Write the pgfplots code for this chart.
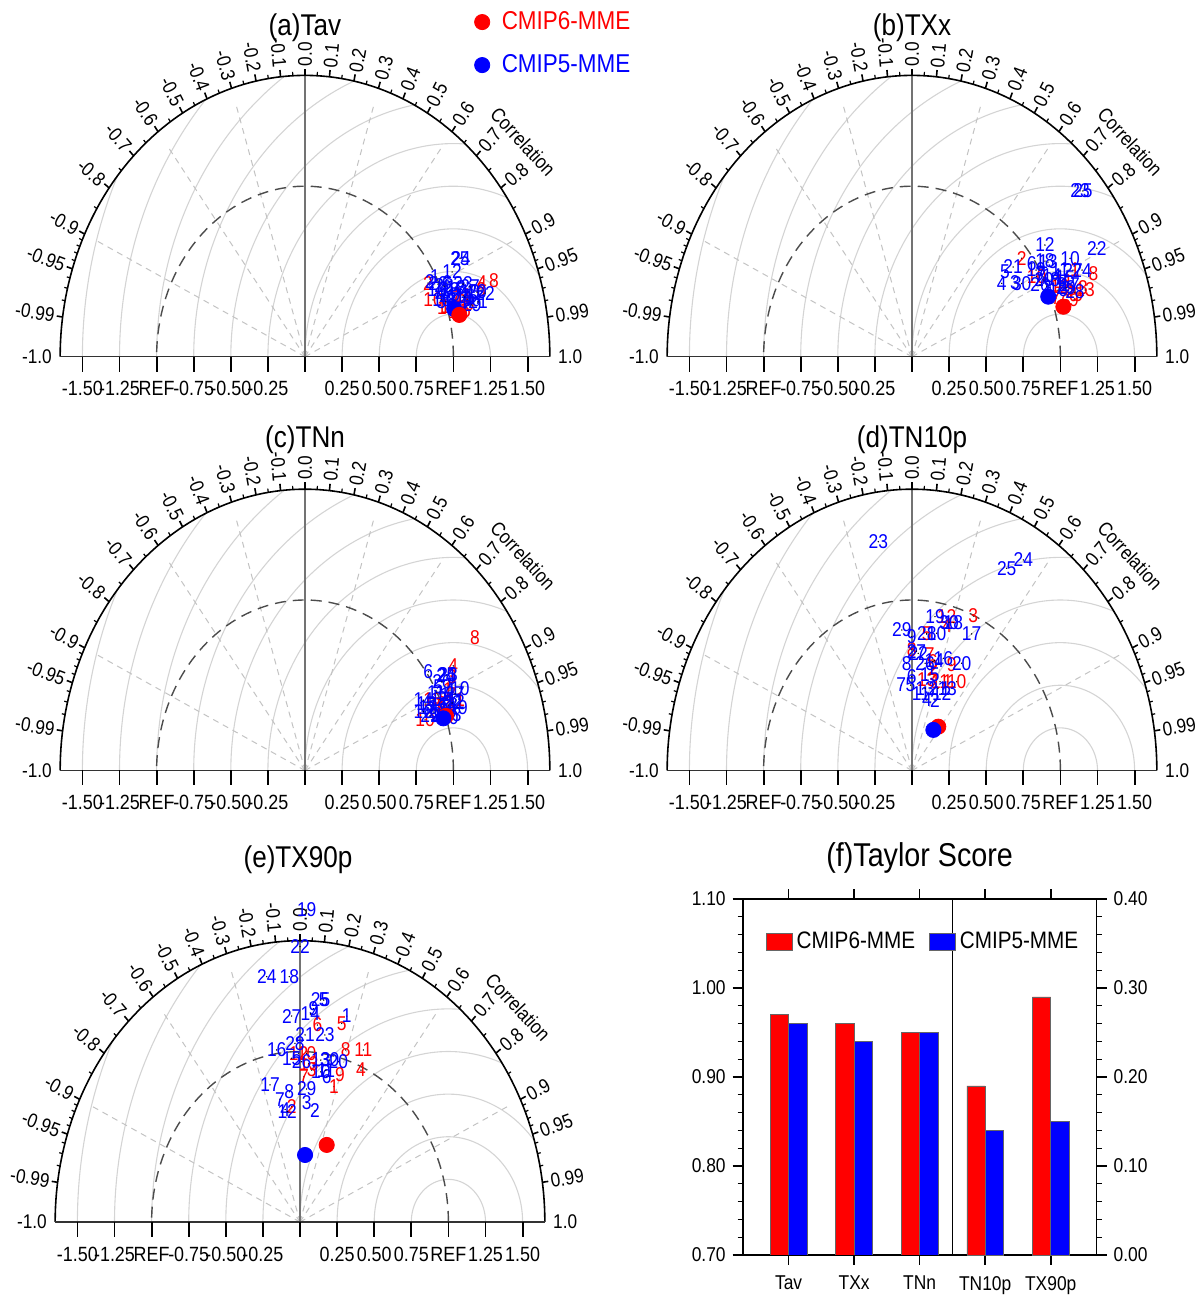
\documentclass[border=0pt]{standalone}
\usepackage{pgfplots}
\pgfplotsset{compat=1.18}
\usepackage{fontspec}
\setmainfont{Liberation Sans}[FakeStretch=0.87]
\setsansfont{Liberation Sans}[FakeStretch=0.87]
\definecolor{gridgray}{RGB}{212,212,212}
\definecolor{raygray}{RGB}{195,195,195}
\newcommand\tickfont{\fontsize{9.9}{11}\selectfont}
\newcommand\numfont{\fontsize{10}{10}\selectfont}
\newcommand\titlefont{\fontsize{15}{17}\selectfont}

\pgfplotsset{
  taylor/.style={anchor=origin, x=74.2pt, y=85.25pt, xmin=-1.9, xmax=1.9, ymin=0, ymax=2, hide axis, clip=false},
  numlab/.style={only marks, mark=*, mark size=0.1pt, mark options={draw=none,fill=none},
     nodes near coords, point meta=explicit symbolic, nodes near coords align={anchor=center},
     every node near coord/.append style={font=\numfont, text=#1, anchor=center, inner sep=0pt}, forget plot},
  mme/.style={only marks, mark=*, mark size=3.8pt, color=#1, mark options={draw=#1, fill=#1}, forget plot},
}

\newcommand\taylorframe[2]{%
\begin{scope}[shift={(#1,#2)}, x=74.2pt, y=85.25pt]
\foreach \r/\a in {0.25/0,0.5/0,0.75/39.35,1.0/68.82,1.25/86.33,1.5/100.13,1.75/112.51,2.0/124.71,2.25/137.92,2.5/154.89}{%
  \draw[gridgray, line width=0.55pt, domain=\a:180, samples=60, variable=\t] plot ({1+\r*cos(\t)},{\r*sin(\t)});
}
\foreach \c in {-0.9,-0.6,-0.3,0.3,0.6,0.9}{%
  \draw[raygray, line width=0.5pt, dash pattern=on 3pt off 2.5pt] (0,0) -- ({1.55*\c},{1.55*sqrt(1-(\c)*(\c))});
}
\draw[black!70, line width=0.7pt, dash pattern=on 5.5pt off 3.5pt, domain=0:180, samples=90, variable=\t] plot ({cos(\t)},{sin(\t)});
\draw[black!55, line width=0.7pt] (0,0) -- (0,1.65);
\draw[black, line width=0.8pt, domain=0:180, samples=120, variable=\t] plot ({1.65*cos(\t)},{1.65*sin(\t)});
\draw[black!80, line width=0.6pt] (-1.65,0) -- (1.65,0);
\foreach \x in {-1.5,-1.25,-1,-0.75,-0.5,-0.25,0,0.25,0.5,0.75,1,1.25,1.5}{%
  \draw[black, line width=0.9pt] (\x,0) -- ++(0,-7.5pt);
}
\foreach \x/\l in {-1.5/-1.50,-1.25/-1.25,-1/REF,-0.75/-0.75,-0.5/-0.50,-0.25/-0.25,0.25/0.25,0.5/0.50,0.75/0.75,1/REF,1.25/1.25,1.5/1.50}{%
  \node[font=\fontsize{10.3}{11}\selectfont, inner sep=0pt] at ([yshift=-16pt]\x,0) {\l};
}
\foreach \c in {-0.99,-0.95,-0.9,-0.8,-0.7,-0.6,-0.5,-0.4,-0.3,-0.2,-0.1,0,0.1,0.2,0.3,0.4,0.5,0.6,0.7,0.8,0.9,0.95,0.99}{%
  \draw[black, line width=0.8pt] ({1.65*\c},{1.65*sqrt(1-(\c)*(\c))}) -- ({1.69*\c},{1.69*sqrt(1-(\c)*(\c))});
}
\foreach \c in {-0.98,-0.97,-0.96,-0.94,-0.93,-0.92,-0.91,-0.85,-0.75,-0.65,-0.55,-0.45,-0.35,-0.25,-0.15,-0.05,0.05,0.15,0.25,0.35,0.45,0.55,0.65,0.75,0.85,0.91,0.92,0.93,0.94,0.96,0.97,0.98}{%
  \draw[black, line width=0.6pt] ({1.65*\c},{1.65*sqrt(1-(\c)*(\c))}) -- ({1.672*\c},{1.672*sqrt(1-(\c)*(\c))});
}
\foreach \c/\l in {-1/-1.0,-0.99/-0.99,-0.95/-0.95,-0.9/-0.9,-0.8/-0.8,-0.7/-0.7,-0.6/-0.6,-0.5/-0.5,-0.4/-0.4,-0.3/-0.3,-0.2/-0.2,-0.1/-0.1}{%
  \pgfmathsetmacro\ang{atan2(85.25*sqrt(1-(\c)*(\c)),74.2*(\c))-180}
  \node[font=\tickfont, rotate=\ang, anchor=east, inner sep=1pt] at ({1.69*\c},{1.69*sqrt(1-(\c)*(\c))}) {\l};
}
\foreach \c/\l in {0/0.0,0.1/0.1,0.2/0.2,0.3/0.3,0.4/0.4,0.5/0.5,0.6/0.6,0.7/0.7,0.8/0.8,0.9/0.9,0.95/0.95,0.99/0.99,1/1.0}{%
  \pgfmathsetmacro\ang{atan2(85.25*sqrt(1-(\c)*(\c)),74.2*(\c))}
  \node[font=\tickfont, rotate=\ang, anchor=west, inner sep=1pt] at ({1.69*\c},{1.69*sqrt(1-(\c)*(\c))}) {\l};
}
\node[font=\tickfont, rotate=-47] at (1.47,1.26) {Correlation};
\end{scope}}

\begin{document}
\begin{tikzpicture}
\useasboundingbox (0,0) rectangle (597.5pt,648.5pt);

\taylorframe{152.5pt}{470.15pt}
\taylorframe{456pt}{470.15pt}
\taylorframe{152.5pt}{263.25pt}
\taylorframe{456pt}{263.25pt}
\taylorframe{150pt}{37.5pt}

\node[font=\titlefont] at (152.5pt,634.5pt) {(a)Tav};
\node[font=\titlefont] at (456pt,634.5pt) {(b)TXx};
\node[font=\titlefont] at (152.5pt,428.5pt) {(c)TNn};
\node[font=\titlefont] at (456pt,428.5pt) {(d)TN10p};
\node[font=\titlefont] at (149pt,218.5pt) {(e)TX90p};
\node[font=\fontsize{16.5}{19}\selectfont] at (459.8pt,219.5pt) {(f)Taylor Score};

% ---------------- (a) Tav
\begin{axis}[taylor, at={(152.5pt,470.15pt)},
  legend style={draw=none, fill=none, at={(axis cs:1.14,2.05)}, anchor=north west,
    font=\fontsize{12.9}{14}\selectfont, row sep=7pt, inner sep=0pt,
    /tikz/every odd column/.append style={column sep=4pt}}, legend cell align=left]
\addplot[numlab=red] table[meta=l] {
x y l
0.923 0.286 1
0.829 0.432 2
1.058 0.321 3
1.193 0.432 4
1.085 0.268 5
1.186 0.391 6
1.018 0.344 7
1.274 0.444 8
1.112 0.309 9
0.863 0.333 10
1.065 0.356 11
0.977 0.297 12
1.031 0.262 13
};
\addplot[numlab=blue] table[meta=l] {
x y l
0.876 0.467 1
0.842 0.438 2
0.943 0.379 3
0.910 0.356 4
1.011 0.362 5
0.957 0.432 6
1.044 0.391 7
0.991 0.333 8
1.098 0.333 9
1.112 0.379 10
0.964 0.356 11
0.991 0.497 12
0.923 0.333 13
1.031 0.303 14
1.078 0.350 15
0.889 0.391 16
1.139 0.344 17
1.018 0.403 18
0.977 0.391 19
1.159 0.379 20
1.166 0.321 21
1.213 0.373 22
1.065 0.426 23
1.051 0.578 24
1.044 0.578 25
0.896 0.426 26
1.112 0.409 27
0.937 0.414 28
1.125 0.303 29
0.950 0.321 30
};
\addplot[mme=blue] coordinates {(1.005,0.280)};
\addplot[mme=red] coordinates {(1.040,0.245)};
\addlegendimage{only marks, mark=*, mark size=3.8pt, red}
\addlegendentry{\textcolor{red}{CMIP6-MME}}
\addlegendimage{only marks, mark=*, mark size=3.8pt, blue}
\addlegendentry{\textcolor{blue}{CMIP5-MME}}
\end{axis}

% ---------------- (b) TXx
\begin{axis}[taylor, at={(456pt,470.15pt)}]
\addplot[numlab=red] table[meta=l] {
x y l
1.098 0.508 1
0.739 0.577 2
1.152 0.403 3
1.065 0.379 4
1.119 0.362 5
1.038 0.321 6
0.970 0.344 7
1.222 0.489 8
1.092 0.333 9
0.840 0.469 10
1.024 0.438 11
0.997 0.409 12
1.166 0.391 13
};
\addplot[numlab=blue] table[meta=l] {
x y l
0.930 0.372 1
0.908 0.411 2
0.694 0.432 3
0.604 0.430 4
0.627 0.497 5
0.807 0.548 6
0.863 0.479 7
0.964 0.450 8
1.011 0.421 9
1.065 0.577 10
0.997 0.508 11
0.896 0.655 12
0.916 0.555 13
0.943 0.473 14
1.031 0.462 15
0.984 0.391 16
1.065 0.421 17
0.896 0.561 18
0.836 0.508 19
0.889 0.450 20
0.681 0.526 21
1.245 0.636 22
1.132 0.972 23
1.146 0.508 24
1.152 0.972 25
0.863 0.421 26
1.085 0.508 27
1.098 0.379 28
1.038 0.403 29
0.739 0.430 30
};
\addplot[mme=red] coordinates {(1.020,0.293)};
\addplot[mme=blue] coordinates {(0.918,0.352)};
\end{axis}

% ---------------- (c) TNn
\begin{axis}[taylor, at={(152.5pt,263.25pt)}]
\addplot[numlab=red] table[meta=l] {
x y l
0.964 0.472 1
0.977 0.394 2
0.989 0.550 3
0.999 0.613 4
0.889 0.384 5
0.921 0.394 6
0.991 0.443 7
1.146 0.779 8
0.921 0.336 9
0.809 0.297 10
1.018 0.413 11
0.950 0.367 12
0.863 0.413 13
};
\addplot[numlab=blue] table[meta=l] {
x y l
0.943 0.443 1
0.889 0.326 2
1.022 0.326 3
0.977 0.472 4
0.898 0.491 5
0.831 0.579 6
0.856 0.384 7
0.937 0.355 8
0.991 0.343 9
1.044 0.482 10
0.883 0.455 11
1.011 0.402 12
0.829 0.367 13
0.797 0.413 14
0.815 0.390 15
0.797 0.345 16
0.910 0.414 17
0.964 0.384 18
1.031 0.367 19
0.869 0.343 20
0.957 0.425 21
0.991 0.396 22
0.964 0.560 23
0.950 0.555 24
0.955 0.560 25
0.923 0.519 26
1.011 0.449 27
0.910 0.320 28
0.842 0.320 29
0.970 0.308 30
};
\addplot[mme=red] coordinates {(0.950,0.320)};
\addplot[mme=blue] coordinates {(0.932,0.306)};
\end{axis}

% ---------------- (d) TN10p
\begin{axis}[taylor, at={(456pt,263.25pt)}]
\addplot[numlab=red] table[meta=l] {
x y l
0.240 0.521 1
0.144 0.599 2
0.413 0.906 3
0.238 0.848 4
0.099 0.805 5
0.140 0.640 6
0.120 0.680 7
-0.002 0.711 8
0.267 0.619 9
0.301 0.521 10
0.189 0.521 11
0.234 0.902 12
0.099 0.531 13
};
\addplot[numlab=blue] table[meta=l] {
x y l
0.225 0.482 1
0.155 0.413 2
0.270 0.482 3
0.100 0.413 4
-0.010 0.501 5
-0.002 0.550 6
-0.072 0.501 7
-0.036 0.629 8
-0.002 0.785 9
0.166 0.805 10
0.060 0.450 11
0.200 0.450 12
0.088 0.482 13
0.150 0.645 14
0.120 0.560 15
0.211 0.658 16
0.402 0.801 17
0.278 0.867 18
0.155 0.902 19
0.335 0.629 20
0.175 0.482 21
0.042 0.687 22
-0.227 1.342 23
0.750 1.235 24
0.638 1.186 25
0.088 0.629 26
0.030 0.700 27
0.100 0.800 28
-0.069 0.824 29
0.250 0.870 30
};
\addplot[mme=red] coordinates {(0.177,0.257)};
\addplot[mme=blue] coordinates {(0.144,0.238)};
\end{axis}

% ---------------- (e) TX90p
\begin{axis}[taylor, at={(150pt,37.5pt)}]
\addplot[numlab=red] table[meta=l] {
x y l
0.229 0.794 1
-0.056 0.676 2
0.079 0.891 3
0.411 0.891 4
0.281 1.165 5
0.117 1.155 6
0.027 0.852 7
0.308 1.009 8
0.270 0.862 9
0.045 0.989 10
0.427 1.009 11
-0.010 0.990 12
0.060 0.930 13
};
\addplot[numlab=blue] table[meta=l] {
x y l
0.315 1.208 1
0.101 0.651 2
0.045 0.700 3
-0.100 0.660 4
0.160 1.302 5
0.180 0.852 6
-0.135 0.720 7
-0.072 0.764 8
0.090 1.250 9
0.140 0.880 10
0.175 0.890 11
-0.086 0.647 12
0.140 0.950 13
0.070 1.220 14
-0.056 0.960 15
-0.157 1.009 16
-0.202 0.804 17
-0.072 1.439 18
0.045 1.830 19
0.258 0.940 20
0.034 1.097 21
0.000 1.615 22
0.168 1.097 23
-0.224 1.439 24
0.139 1.302 25
0.011 0.940 26
-0.056 1.208 27
-0.034 1.048 28
0.045 0.780 29
0.200 0.950 30
};
\addplot[mme=red] coordinates {(0.180,0.452)};
\addplot[mme=blue] coordinates {(0.034,0.393)};
\end{axis}

% ---------------- (f) Taylor Score, left scale
\begin{axis}[at={(371.35pt,21pt)}, anchor=south west, scale only axis, width=176.95pt, height=178pt,
  xmin=0.3, xmax=5.7, ymin=0.7, ymax=1.1,
  xtick={1,2,3,4,5}, xticklabels={Tav,TXx,TNn,TN10p,TX90p}, xtick pos=both, xticklabel pos=left,
  ytick={0.7,0.8,0.9,1.0,1.1}, yticklabels={0.70,0.80,0.90,1.00,1.10}, ytick pos=left,
  minor y tick num=4, tick align=outside, major tick length=5pt, minor tick length=2.5pt,
  axis line style={line width=0.8pt}, every tick/.style={black, line width=0.8pt},
  every minor tick/.style={black, line width=0.6pt},
  ticklabel style={font=\fontsize{10}{12}\selectfont},
  xticklabel style={yshift=-2pt},
  legend style={draw=none, fill=none, at={(axis cs:0.56,1.0517)}, anchor=west, legend columns=2,
    font=\fontsize{11.9}{13}\selectfont, /tikz/every even column/.append style={column sep=5pt}},
  legend image code/.code={\fill[#1] (0pt,-4.3pt) rectangle (13pt,4.3pt);}]
\addplot[ybar, bar width=0.28, bar shift=-0.14, fill=red, draw=black!60, line width=0.3pt] coordinates {(1,0.97) (2,0.96) (3,0.95)};
\addlegendentry{CMIP6-MME}
\addplot[ybar, bar width=0.28, bar shift=0.14, fill=blue, draw=black!60, line width=0.3pt] coordinates {(1,0.96) (2,0.94) (3,0.95)};
\addlegendentry{CMIP5-MME}
\draw[black, line width=0.8pt] (axis cs:3.5,0.7) -- (axis cs:3.5,1.1);
\end{axis}

% ---------------- (f) right scale
\begin{axis}[at={(371.35pt,21pt)}, anchor=south west, scale only axis, width=176.95pt, height=178pt,
  xmin=0.3, xmax=5.7, ymin=0, ymax=0.4,
  axis x line=none, axis y line*=right,
  ytick={0,0.1,0.2,0.3,0.4}, yticklabels={0.00,0.10,0.20,0.30,0.40},
  minor y tick num=4, tick align=outside, major tick length=5pt, minor tick length=2.5pt,
  axis line style={-, line width=0.8pt}, every tick/.style={black, line width=0.8pt},
  every minor tick/.style={black, line width=0.6pt},
  ticklabel style={font=\fontsize{10}{12}\selectfont}]
\addplot[ybar, bar width=0.28, bar shift=-0.14, fill=red, draw=black!60, line width=0.3pt] coordinates {(4,0.19) (5,0.29)};
\addplot[ybar, bar width=0.28, bar shift=0.14, fill=blue, draw=black!60, line width=0.3pt] coordinates {(4,0.14) (5,0.15)};
\end{axis}
\end{tikzpicture}
\end{document}
